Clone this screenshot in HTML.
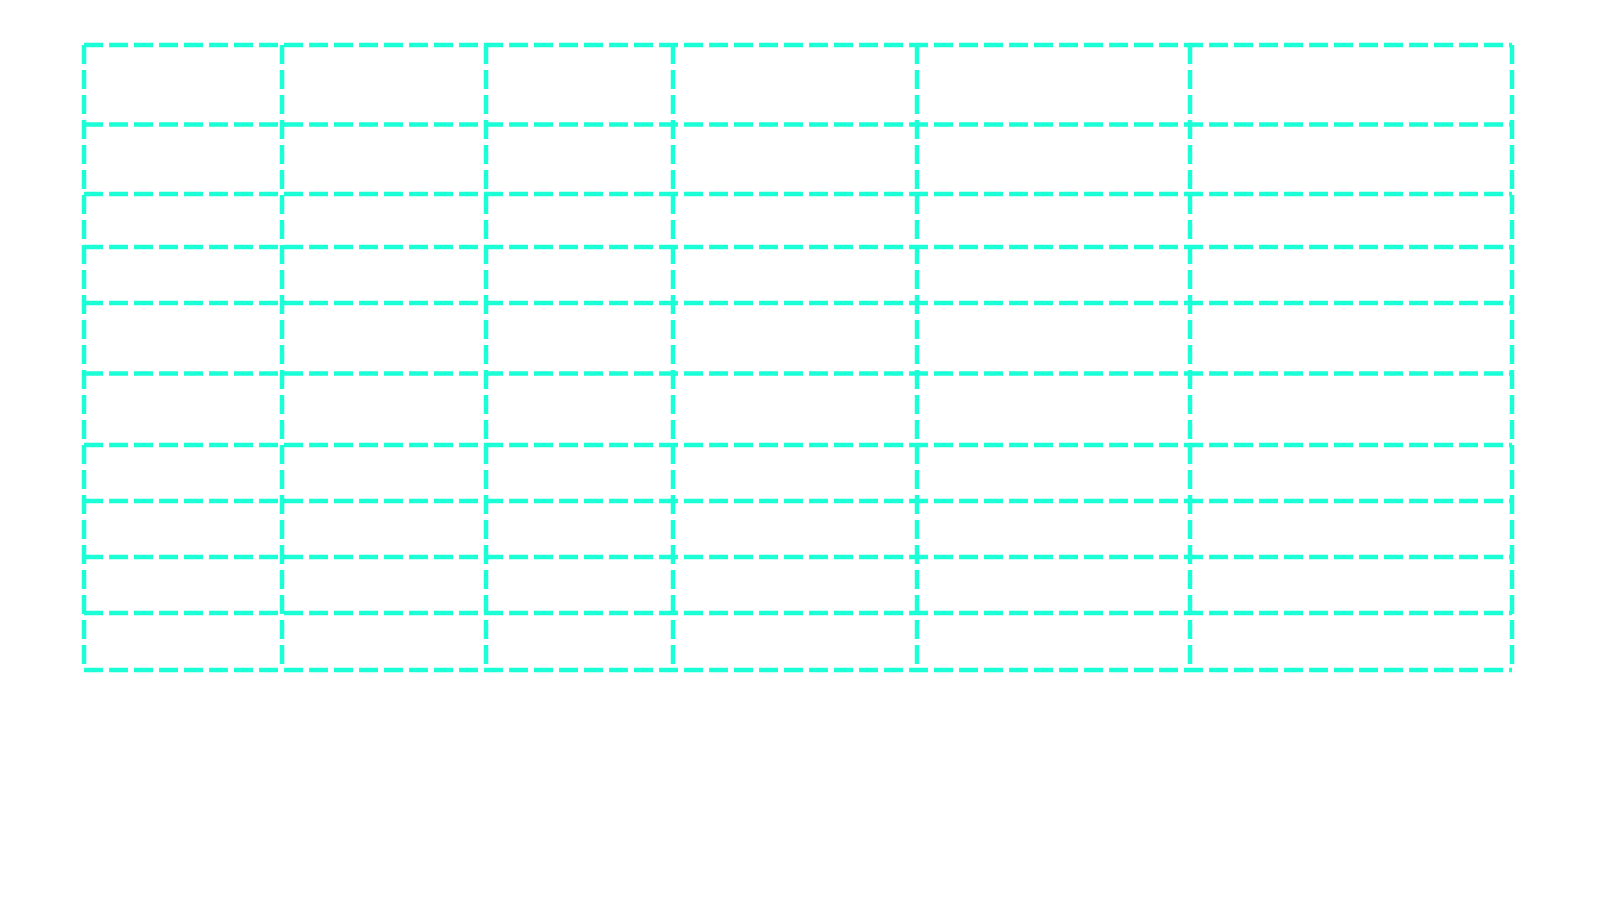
<!DOCTYPE html>
<html><head><meta charset="utf-8"><style>
html,body{margin:0;padding:0;background:#fff;}
svg{display:block;}
</style></head><body>
<svg id="chart" width="1600" height="900" xmlns="http://www.w3.org/2000/svg"></svg>
<script>
const xTicks = [0, 198, 402, 589, 833, 1106, 1428];
const yTicks = [0, 79.5, 149, 202, 258, 328.5, 400, 456, 512, 568, 625];
const xDomain = [0, 1428], yDomain = [0, 625];
const X0 = 84, X1 = 1512, Y0 = 45, Y1 = 670;
function xs(v){ return X0 + (v - xDomain[0]) / (xDomain[1] - xDomain[0]) * (X1 - X0); }
function ys(v){ return Y0 + (v - yDomain[0]) / (yDomain[1] - yDomain[0]) * (Y1 - Y0); }
const svg = document.getElementById('chart');
const NS = 'http://www.w3.org/2000/svg';
function line(x1,y1,x2,y2){
  const l = document.createElementNS(NS,'line');
  l.setAttribute('x1',x1);l.setAttribute('y1',y1);l.setAttribute('x2',x2);l.setAttribute('y2',y2);
  l.setAttribute('stroke','#1affd5');l.setAttribute('stroke-width','4.5');
  l.setAttribute('stroke-dasharray','19 6');
  svg.appendChild(l);
  return l;
}
yTicks.forEach(v=>{
  const l = line(X0, ys(v), X1, ys(v));
  
  
});
xTicks.forEach(v=>{
  const l = line(xs(v), Y0, xs(v), Y1);
  
  
});
</script>
</body></html>
